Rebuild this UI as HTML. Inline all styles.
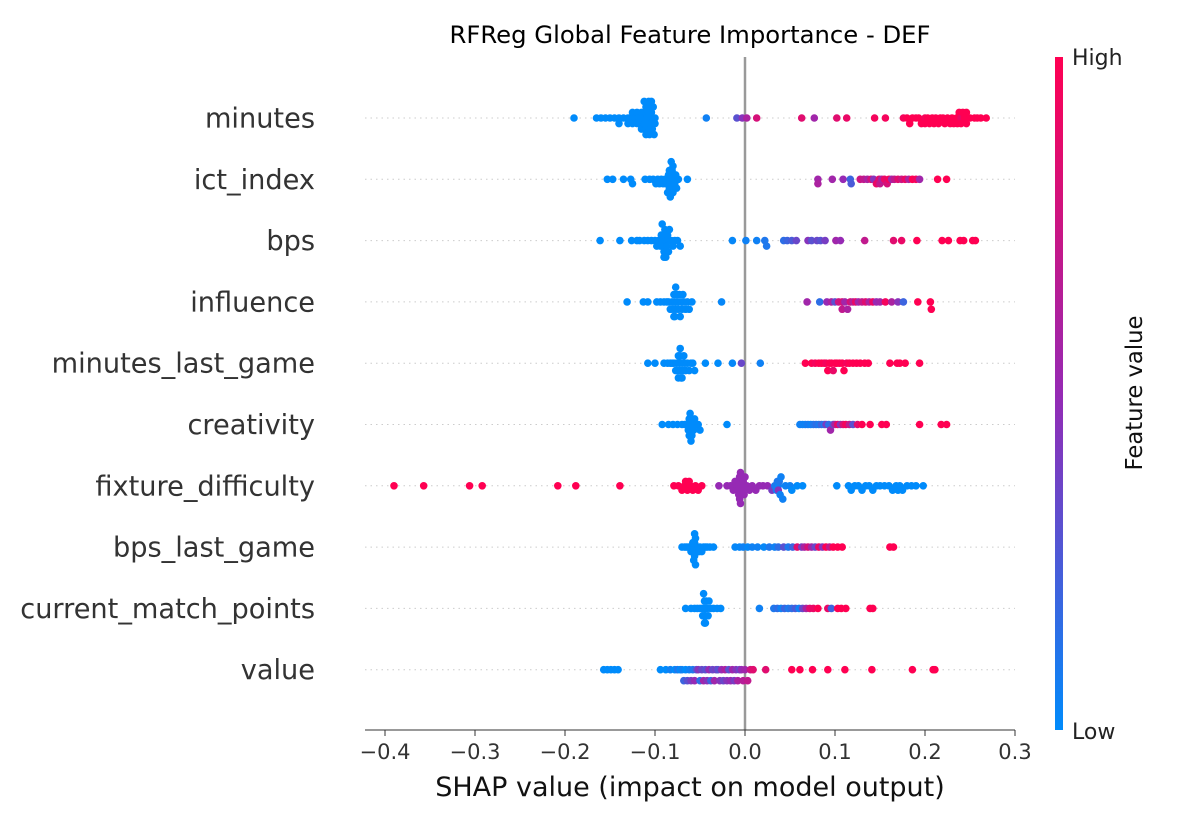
<!DOCTYPE html>
<html><head><meta charset="utf-8"><style>
body{margin:0;background:#fff;}
svg{display:block;font-family:"DejaVu Sans","Liberation Sans",sans-serif;}
</style></head><body>
<svg id="chart" width="1200" height="825">
<defs><linearGradient id="cb" x1="0" y1="1" x2="0" y2="0">
<stop offset="0" stop-color="#008bfb"/><stop offset="0.5" stop-color="#962ab4"/><stop offset="1" stop-color="#ff0052"/></linearGradient></defs>
<text x="690" y="43" text-anchor="middle" font-size="24.3" fill="#000">RFReg Global Feature Importance - DEF</text>
<g id="grid"></g>
<line x1="745" y1="57" x2="745" y2="730" stroke="#999" stroke-width="2.5"/>
<g id="points"></g>
<g id="xaxis"></g>
<text x="690" y="796" text-anchor="middle" font-size="27" fill="#111">SHAP value (impact on model output)</text>
<rect x="1055" y="57" width="8" height="673" fill="url(#cb)"/>
<text x="1072" y="65" font-size="22" fill="#222">High</text>
<text x="1072" y="739" font-size="22" fill="#222">Low</text>
<text transform="translate(1142,393) rotate(-90)" text-anchor="middle" font-size="22.7" fill="#111">Feature value</text>
</svg>
<script>
const features=["minutes","ict_index","bps","influence","minutes_last_game","creativity","fixture_difficulty","bps_last_game","current_match_points","value"];
const xTicks=[-0.4,-0.3,-0.2,-0.1,0.0,0.1,0.2,0.3];
const xTickLabels=["\u22120.4","\u22120.3","\u22120.2","\u22120.1","0.0","0.1","0.2","0.3"];

const minutesShap=[-0.19,-0.165,-0.16,-0.155,-0.15,-0.145,-0.14,-0.14,-0.135,-0.13,-0.13,-0.128,-0.125,-0.125,-0.122,-0.12,-0.12,-0.118,-0.117,-0.115,-0.115,-0.113,-0.112,-0.11,-0.11,-0.11,-0.109,-0.108,-0.107,-0.106,-0.105,-0.105,-0.104,-0.103,-0.102,-0.101,-0.1,-0.1,-0.11,-0.108,-0.106,-0.104,-0.112,-0.107,-0.043,-0.009,-0.003,0.002,0.013,0.063,0.077,0.102,0.113,0.144,0.156,0.176,0.18,0.183,0.186,0.19,0.193,0.196,0.2,0.2,0.203,0.205,0.208,0.21,0.212,0.215,0.217,0.22,0.222,0.225,0.228,0.23,0.232,0.235,0.236,0.238,0.24,0.24,0.242,0.244,0.246,0.246,0.25,0.255,0.258,0.262,0.268];
const minutesFeat=[0,0,0,0,0,0,0,0,0,0,0,0,0,0,0,0,0,0,0,0,0,0,0,0,0,0,0,0,0,0,0,0,0,0,0,0,0,0,0,0,0,0,0,0,0.05,0.3,0.45,0.6,0.8,0.85,0.55,0.85,0.9,0.95,0.95,0.95,1,1,1,1,1,1,0.95,1,1,1,1,1,1,1,1,1,1,1,1,1,1,1,1,1,0.9,1,1,1,1,1,1,1,1,1,1];

const ictShap=[-0.153,-0.147,-0.135,-0.127,-0.125,-0.111,-0.106,-0.102,-0.099,-0.097,-0.095,-0.093,-0.091,-0.089,-0.088,-0.087,-0.086,-0.085,-0.084,-0.083,-0.083,-0.082,-0.082,-0.081,-0.08,-0.08,-0.079,-0.078,-0.077,-0.076,-0.074,-0.083,-0.084,-0.082,-0.086,-0.064,0.081,0.081,0.097,0.109,0.117,0.118,0.128,0.132,0.136,0.14,0.143,0.146,0.149,0.15,0.152,0.155,0.158,0.16,0.163,0.166,0.17,0.174,0.178,0.182,0.186,0.19,0.194,0.214,0.224];
const ictFeat=[0,0,0,0,0,0,0,0,0,0,0,0,0,0,0,0,0,0,0,0,0,0,0,0,0,0,0,0,0,0,0,0,0,0,0,0,0.55,0.6,0.55,0.5,0.2,0.25,0.75,0.7,0.6,0.8,0.45,0.9,0.85,0.7,0.6,0.9,0.8,0.95,0.55,0.7,0.85,0.75,0.9,0.6,1,0.95,0.55,1,1];

const bpsShap=[-0.161,-0.139,-0.126,-0.12,-0.117,-0.112,-0.108,-0.104,-0.1,-0.098,-0.096,-0.094,-0.093,-0.092,-0.091,-0.091,-0.09,-0.089,-0.088,-0.087,-0.086,-0.085,-0.084,-0.082,-0.08,-0.078,-0.075,-0.072,-0.09,-0.092,-0.088,-0.014,0.001,0.013,0.022,0.024,0.043,0.047,0.052,0.057,0.07,0.074,0.08,0.084,0.089,0.101,0.106,0.133,0.165,0.174,0.191,0.219,0.226,0.239,0.243,0.253,0.256];
const bpsFeat=[0,0,0,0,0,0,0,0,0,0,0,0,0,0,0,0,0,0,0,0,0,0,0,0,0,0,0,0,0,0,0,0.02,0.05,0.05,0.1,0.1,0.15,0.2,0.25,0.35,0.45,0.3,0.35,0.3,0.4,0.55,0.5,0.7,0.85,0.9,1,1,1,1,1,1,1];

const influenceShap=[-0.131,-0.113,-0.108,-0.098,-0.094,-0.09,-0.087,-0.085,-0.083,-0.081,-0.08,-0.079,-0.078,-0.077,-0.076,-0.075,-0.074,-0.073,-0.072,-0.071,-0.07,-0.069,-0.068,-0.066,-0.064,-0.062,-0.078,-0.077,-0.079,-0.059,-0.026,0.069,0.083,0.091,0.096,0.1,0.104,0.108,0.108,0.111,0.114,0.117,0.12,0.123,0.126,0.13,0.134,0.138,0.142,0.146,0.15,0.156,0.163,0.17,0.176,0.192,0.206,0.207];
const influenceFeat=[0,0,0,0,0,0,0,0,0,0,0,0,0,0,0,0,0,0,0,0,0,0,0,0,0,0,0,0,0,0,0.02,0.55,0.15,0.5,0.6,0.3,0.75,0.8,0.7,0.55,0.6,0.8,0.65,0.9,0.55,0.7,0.85,0.6,0.9,0.5,0.55,0.95,0.6,0.45,0.2,1,1,1];

const mlgShap=[-0.108,-0.1,-0.09,-0.086,-0.083,-0.081,-0.079,-0.077,-0.076,-0.075,-0.074,-0.073,-0.072,-0.072,-0.071,-0.07,-0.069,-0.068,-0.067,-0.066,-0.064,-0.062,-0.06,-0.058,-0.056,-0.072,-0.074,-0.07,-0.044,-0.03,-0.014,-0.004,0.017,0.067,0.074,0.078,0.082,0.085,0.088,0.09,0.092,0.094,0.096,0.098,0.1,0.102,0.105,0.108,0.11,0.113,0.116,0.12,0.124,0.128,0.133,0.137,0.161,0.169,0.172,0.178,0.194];
const mlgFeat=[0,0,0,0,0,0,0,0,0,0,0,0,0,0,0,0,0,0,0,0,0,0,0,0,0,0,0,0,0,0,0.02,0.35,0.05,1,1,0.95,1,1,1,0.95,1,1,1,0.9,1,1,1,1,1,0.95,1,1,1,1,1,1,1,1,1,1,1];

const creativityShap=[-0.092,-0.085,-0.08,-0.075,-0.07,-0.067,-0.065,-0.063,-0.062,-0.061,-0.06,-0.06,-0.059,-0.058,-0.057,-0.056,-0.054,-0.052,-0.05,-0.061,-0.062,-0.06,-0.02,0.061,0.064,0.067,0.07,0.073,0.076,0.079,0.082,0.085,0.088,0.09,0.093,0.095,0.098,0.1,0.103,0.106,0.109,0.112,0.116,0.12,0.125,0.13,0.139,0.152,0.157,0.194,0.218,0.224];
const creativityFeat=[0,0,0,0,0,0,0,0,0,0,0,0,0,0,0,0,0,0,0,0,0,0,0,0.05,0.05,0.05,0.08,0.05,0.1,0.15,0.1,0.2,0.1,0.4,0.15,0.55,0.3,0.6,0.9,0.45,0.8,0.95,0.7,0.3,0.85,1,1,1,1,1,1,1];

const fixtureShap=[-0.39,-0.357,-0.306,-0.292,-0.208,-0.188,-0.139,-0.079,-0.074,-0.07,-0.067,-0.064,-0.061,-0.058,-0.055,-0.052,-0.048,-0.062,-0.066,-0.029,-0.02,-0.016,-0.013,-0.011,-0.009,-0.008,-0.007,-0.007,-0.006,-0.006,-0.005,-0.005,-0.004,-0.003,-0.002,-0.001,0.0,0.002,0.005,0.008,0.012,0.016,0.02,0.025,0.03,0.033,0.035,0.036,0.037,0.037,0.038,0.039,0.04,0.042,0.045,0.05,0.052,0.058,0.064,0.102,0.115,0.118,0.122,0.126,0.13,0.134,0.138,0.142,0.146,0.15,0.155,0.16,0.164,0.168,0.17,0.172,0.175,0.18,0.185,0.19,0.198];
const fixtureFeat=[1,1,1,1,1,1,1,1,1,1,1,1,1,1,1,1,1,1,1,0.5,0.5,0.5,0.5,0.5,0.5,0.5,0.5,0.5,0.5,0.5,0.5,0.5,0.5,0.5,0.5,0.5,0.5,0.5,0.5,0.5,0.5,0.5,0.5,0.5,0.4,0.1,0.05,0.1,0.05,0.45,0.1,0.05,0.05,0.05,0.05,0.05,0,0,0,0,0,0,0,0,0,0,0,0,0,0,0,0,0,0,0,0,0,0,0,0,0];

const bpsLgShap=[-0.07,-0.067,-0.065,-0.063,-0.061,-0.06,-0.059,-0.058,-0.057,-0.057,-0.056,-0.056,-0.055,-0.054,-0.053,-0.052,-0.051,-0.05,-0.048,-0.046,-0.044,-0.042,-0.039,-0.035,-0.057,-0.058,-0.056,-0.055,-0.011,-0.006,-0.002,0.003,0.008,0.014,0.021,0.027,0.033,0.037,0.043,0.048,0.053,0.058,0.063,0.066,0.07,0.074,0.078,0.082,0.086,0.09,0.094,0.098,0.103,0.108,0.161,0.165];
const bpsLgFeat=[0,0,0,0,0,0,0,0,0,0,0,0,0,0,0,0,0,0,0,0,0,0,0,0,0,0,0,0,0.02,0.02,0.05,0.02,0.05,0.05,0.02,0.1,0.05,0.15,0.3,0.1,0.2,0.85,0.4,0.6,0.8,0.55,0.35,0.9,0.45,1,0.7,1,1,1,1,1];

const cmpShap=[-0.066,-0.06,-0.056,-0.053,-0.05,-0.048,-0.047,-0.046,-0.045,-0.045,-0.044,-0.044,-0.043,-0.042,-0.041,-0.04,-0.038,-0.035,-0.031,-0.027,-0.045,-0.046,-0.044,0.016,0.032,0.036,0.04,0.044,0.048,0.052,0.056,0.06,0.064,0.068,0.072,0.076,0.081,0.092,0.096,0.103,0.107,0.112,0.139,0.142];
const cmpFeat=[0,0,0,0,0,0,0,0,0,0,0,0,0,0,0,0,0,0,0,0,0,0,0,0.05,0.1,0.15,0.05,0.2,0.1,0.15,0.25,0.05,0.35,0.6,0.85,0.9,1,0.9,0.2,1,1,1,1,1];

const valueShap=[-0.157,-0.153,-0.149,-0.145,-0.141,-0.094,-0.088,-0.083,-0.078,-0.075,-0.072,-0.07,-0.068,-0.066,-0.064,-0.062,-0.06,-0.058,-0.056,-0.054,-0.052,-0.05,-0.048,-0.046,-0.044,-0.042,-0.04,-0.038,-0.036,-0.034,-0.032,-0.03,-0.028,-0.026,-0.024,-0.022,-0.02,-0.018,-0.016,-0.014,-0.012,-0.01,-0.008,-0.006,-0.004,-0.002,0.0,0.003,0.006,0.009,0.023,0.052,0.061,0.075,0.092,0.111,0.141,0.186,0.209,0.211];
const valueFeat=[0,0,0,0,0,0,0,0.05,0,0.1,0,0.05,0.2,0,0.3,0.05,0.4,0.1,0.5,0.25,0.45,0.15,0.35,0.55,0.3,0.45,0.5,0.2,0.35,0.55,0.4,0.3,0.45,0.5,0.35,0.6,0.45,0.3,0.5,0.55,0.4,0.45,0.6,0.35,0.5,0.65,0.55,0.7,0.75,0.85,0.85,1,1,1,1,1,1,1,1,1];

const shapByFeature=[minutesShap,ictShap,bpsShap,influenceShap,mlgShap,creativityShap,fixtureShap,bpsLgShap,cmpShap,valueShap];
const featByFeature=[minutesFeat,ictFeat,bpsFeat,influenceFeat,mlgFeat,creativityFeat,fixtureFeat,bpsLgFeat,cmpFeat,valueFeat];

const NS="http://www.w3.org/2000/svg";
const X0=745,XS=900,ROW0=118,ROWH=61.3;
function xScale(v){return X0+v*XS;}
function yRow(i){return ROW0+i*ROWH;}
function color(t){
  const a=[0,139,251],m=[150,42,180],b=[255,0,82];
  let c;if(t<0.5){const u=t/0.5;c=a.map((v,k)=>v+(m[k]-v)*u);}else{const u=(t-0.5)/0.5;c=m.map((v,k)=>v+(b[k]-v)*u);}
  return "rgb("+c.map(Math.round).join(",")+")";
}
const svg=document.getElementById("chart"),grid=document.getElementById("grid"),pts=document.getElementById("points"),xa=document.getElementById("xaxis");
features.forEach((f,i)=>{
  const y=yRow(i);
  const gl=document.createElementNS(NS,"line");
  gl.setAttribute("x1",365);gl.setAttribute("x2",1015);gl.setAttribute("y1",y);gl.setAttribute("y2",y);
  gl.setAttribute("stroke","#ccc");gl.setAttribute("stroke-width","1");gl.setAttribute("stroke-dasharray","1.5,4");
  
  
  grid.appendChild(gl);
  const lb=document.createElementNS(NS,"text");
  lb.setAttribute("x",315);lb.setAttribute("y",y+9.5);lb.setAttribute("text-anchor","end");
  lb.setAttribute("font-size","27.2");lb.setAttribute("fill","#333");lb.textContent=f;
  
  
  svg.appendChild(lb);
  const s=shapByFeature[i],fv=featByFeature[i];
  const mn=Math.min(...s),mx=Math.max(...s),nb=100;
  const q=s.map(v=>Math.round(nb*(v-mn)/(mx-mn+1e-8)));
  const idx=s.map((_,k)=>k).sort((a,b)=>q[a]-q[b]||a-b);
  const ys=new Array(s.length).fill(0);let last=-1,layer=0;
  idx.forEach(k=>{if(q[k]!==last){layer=0;}ys[k]=Math.ceil(layer/2)*((layer%2)*2-1);layer++;last=q[k];});
  const maxy=Math.max(...ys.map(Math.abs));
  const sc=0.36*ROWH/(maxy+1);
  s.forEach((v,k)=>{
    const c=document.createElementNS(NS,"circle");
    c.setAttribute("cx",xScale(v));c.setAttribute("cy",y+ys[k]*sc);c.setAttribute("r",3.8);
    c.setAttribute("fill",color(fv[k]));
    
    
    pts.appendChild(c);
  });
});
const ax=document.createElementNS(NS,"line");
ax.setAttribute("x1",365);ax.setAttribute("x2",1015);ax.setAttribute("y1",730);ax.setAttribute("y2",730);ax.setAttribute("stroke","#333");ax.setAttribute("stroke-width","1");


xa.appendChild(ax);
xTicks.forEach((t,i)=>{
  const x=xScale(t);
  const tk=document.createElementNS(NS,"line");
  tk.setAttribute("x1",x);tk.setAttribute("x2",x);tk.setAttribute("y1",730);tk.setAttribute("y2",736);tk.setAttribute("stroke","#333");
  
  
  xa.appendChild(tk);
  const tl=document.createElementNS(NS,"text");
  tl.setAttribute("x",x);tl.setAttribute("y",759);tl.setAttribute("text-anchor","middle");tl.setAttribute("font-size","21");tl.setAttribute("fill","#333");
  tl.textContent=xTickLabels[i];
  
  
  xa.appendChild(tl);
});
</script>
</body></html>
